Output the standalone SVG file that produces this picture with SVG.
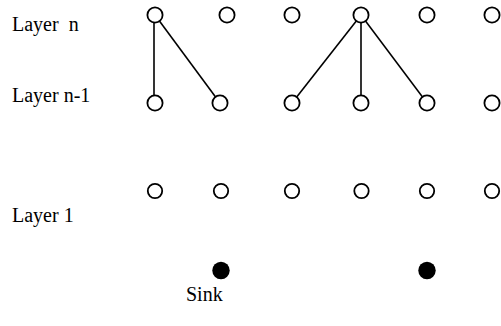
<svg xmlns="http://www.w3.org/2000/svg" width="501" height="326" viewBox="0 0 501 326">
<style>
text{font-family:'Times New Roman','Liberation Serif','DejaVu Serif',serif;font-size:20px;fill:#000}
.n{fill:#fff;stroke:#000;stroke-width:1.8}
.s{fill:#000}
.e{stroke:#000;stroke-width:1.6;fill:none}
</style>
<rect width="501" height="326" fill="#fff"/>
<g id="labels">
<text x="12" y="31" xml:space="preserve">Layer  n</text>
<text x="12" y="102">Layer n-1</text>
<text x="12" y="222">Layer 1</text>
<text x="186" y="301">Sink</text>
</g>
<g id="connectors">
<line class="e" x1="154" y1="15" x2="154" y2="103"/>
<line class="e" x1="155" y1="15" x2="220" y2="103"/>
<line class="e" x1="361" y1="15" x2="292" y2="103"/>
<line class="e" x1="361" y1="15" x2="361" y2="103"/>
<line class="e" x1="361" y1="15" x2="427" y2="103"/>
</g>
<g id="layer-n">
<circle id="n1" class="n" cx="155" cy="15" r="7.6"/>
<circle id="n2" class="n" cx="227" cy="15" r="7.6"/>
<circle id="n3" class="n" cx="292" cy="15" r="7.6"/>
<circle id="n4" class="n" cx="361" cy="15" r="7.6"/>
<circle id="n5" class="n" cx="427" cy="15" r="7.6"/>
<circle id="n6" class="n" cx="492" cy="15" r="7.6"/>
</g>
<g id="layer-n-1">
<circle id="m1" class="n" cx="155" cy="103" r="7.6"/>
<circle id="m2" class="n" cx="220" cy="103" r="7.6"/>
<circle id="m3" class="n" cx="292" cy="103" r="7.6"/>
<circle id="m4" class="n" cx="361" cy="103" r="7.6"/>
<circle id="m5" class="n" cx="427" cy="103" r="7.6"/>
<circle id="m6" class="n" cx="492" cy="103" r="7.6"/>
</g>
<g id="layer-1">
<circle id="l1" class="n" cx="155" cy="191" r="7.2"/>
<circle id="l2" class="n" cx="221" cy="191" r="7.2"/>
<circle id="l3" class="n" cx="292" cy="191" r="7.2"/>
<circle id="l4" class="n" cx="361.5" cy="191" r="7.2"/>
<circle id="l5" class="n" cx="427" cy="191" r="7.2"/>
<circle id="l6" class="n" cx="492" cy="191" r="7.2"/>
</g>
<g id="sinks">
<circle id="sink1" class="s" cx="221" cy="270.5" r="8.7"/>
<circle id="sink2" class="s" cx="427" cy="270.5" r="8.7"/>
</g>
</svg>
